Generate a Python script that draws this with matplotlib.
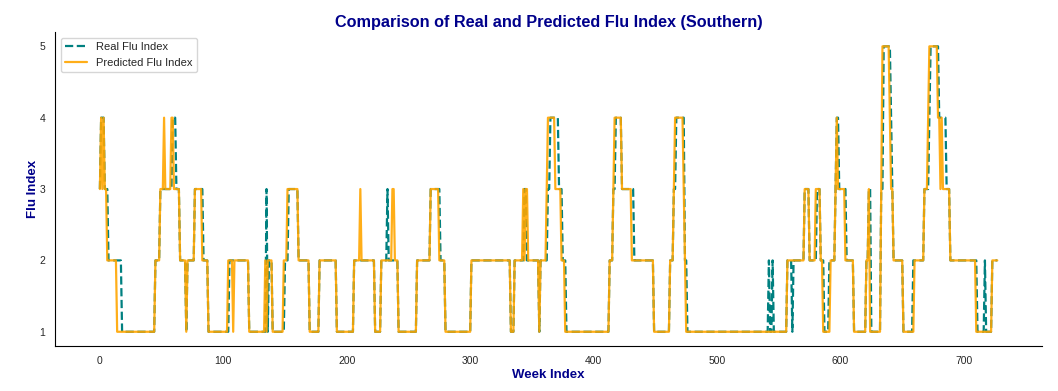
import matplotlib
matplotlib.use("Agg")
import matplotlib.pyplot as plt
import numpy as np
import seaborn as sns

n_weeks = 728

# weekly flu index, stored as (first week of run, value)
real_starts = [0, 1, 4, 7, 18, 45, 49, 59, 62, 65, 70, 71, 77, 84, 88,
               105, 121, 135, 136, 137, 140, 150, 153, 161, 170, 178, 192, 206, 223, 228,
               233, 234, 242, 257, 268, 276, 280, 301, 333, 336, 344, 346, 356, 357, 363,
               365, 372, 375, 378, 413, 416, 418, 423, 433, 449, 462, 465, 467, 474, 476,
               542, 543, 545, 546, 557, 561, 562, 571, 575, 581, 584, 587, 591, 596, 597,
               599, 605, 611, 621, 623, 625, 633, 635, 641, 642, 643, 651, 659, 668, 672,
               673, 680, 686, 689, 711, 717, 718, 723]
real_values = [3, 4, 3, 2, 1, 2, 3, 4, 3, 2, 1, 2, 3, 2, 1,
               2, 1, 3, 1, 2, 1, 2, 3, 2, 1, 2, 1, 2, 1, 2,
               3, 2, 1, 2, 3, 2, 1, 2, 1, 2, 3, 2, 1, 2, 3,
               4, 3, 2, 1, 2, 3, 4, 3, 2, 1, 2, 3, 4, 2, 1,
               2, 1, 2, 1, 2, 1, 2, 3, 2, 3, 2, 1, 2, 3, 4,
               3, 2, 1, 2, 3, 1, 3, 5, 4, 3, 2, 1, 2, 3, 4,
               5, 4, 3, 2, 1, 2, 1, 2]

pred_starts = [0, 1, 2, 3, 4, 6, 14, 45, 49, 52, 53, 58, 60, 65, 70, 71, 77, 83, 88,
               104, 108, 109, 121, 134, 135, 136, 140, 149, 152, 161, 170, 178, 192, 206, 211,
               212, 223, 228, 237, 239, 242, 257, 268, 275, 280, 301, 333, 336, 343, 344,
               345, 347, 356, 357, 362, 363, 369, 374, 377, 413, 416, 417, 423, 431, 449,
               462, 465, 466, 473, 474, 475, 557, 571, 575, 580, 584, 586, 592, 596, 597,
               598, 604, 611, 621, 623, 624, 633, 634, 640, 641, 643, 651, 660, 668, 671,
               672, 679, 681, 682, 683, 689, 710, 723]
pred_values = [3, 4, 3, 4, 3, 2, 1, 2, 3, 4, 3, 4, 3, 2, 1, 2, 3, 2, 1,
               2, 1, 2, 1, 2, 1, 2, 1, 2, 3, 2, 1, 2, 1, 2, 3,
               2, 1, 2, 3, 2, 1, 2, 3, 2, 1, 2, 1, 2, 3, 2,
               3, 2, 1, 2, 3, 4, 3, 2, 1, 2, 3, 4, 3, 2, 1,
               2, 3, 4, 3, 2, 1, 2, 3, 2, 3, 2, 1, 2, 3, 4,
               3, 2, 1, 2, 3, 1, 3, 5, 4, 3, 2, 1, 2, 3, 4,
               5, 4, 3, 4, 3, 2, 1, 2]


def expand(starts, values):
    lengths = np.diff(starts + [n_weeks])
    return np.repeat(values, lengths)


weeks = np.arange(n_weeks)
real = expand(real_starts, real_values)
pred = expand(pred_starts, pred_values)

sns.set_style("white")
plt.rcParams["font.family"] = ["Liberation Sans", "DejaVu Sans"]

fig, ax = plt.subplots(figsize=(10.58, 3.91), dpi=100)
plt.subplots_adjust(left=0.052, right=0.985, top=0.918, bottom=0.115)

ax.plot(weeks, real, color="teal", ls="--", lw=1.6, label="Real Flu Index")
ax.plot(weeks, pred, color="orange", lw=1.6, alpha=0.9, label="Predicted Flu Index")

ax.set_title("Comparison of Real and Predicted Flu Index (Southern)",
             fontsize=11.7, fontweight="bold", color="darkblue", pad=4)
ax.set_xlabel("Week Index", fontsize=9.5, fontweight="bold", color="darkblue", labelpad=2.5)
ax.set_ylabel("Flu Index", fontsize=9.5, fontweight="bold", color="darkblue", labelpad=0)
ax.set_yticks([1, 2, 3, 4, 5])
ax.tick_params(labelsize=7.5, colors=".15")
ax.legend(loc="upper left", fontsize=8)
sns.despine(ax=ax)
for s in ["left", "bottom"]:
    ax.spines[s].set_color("black")

fig.savefig("out.png", dpi=100)
